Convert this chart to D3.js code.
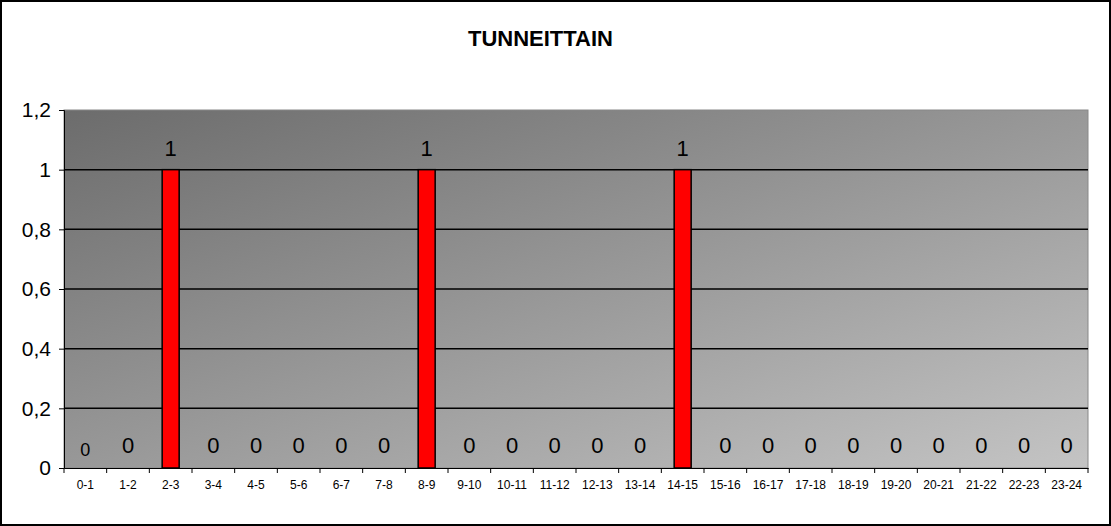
<!DOCTYPE html>
<html>
<head>
<meta charset="utf-8">
<script src="https://cdn.jsdelivr.net/npm/d3@7"></script>
<style>
  body { margin: 0; background: #fff; }
  text { font-family: Arial, "Liberation Sans", sans-serif; }
</style>
</head>
<body>
<div id="chart"></div>
<script>
const hours = ['0-1','1-2','2-3','3-4','4-5','5-6','6-7','7-8','8-9','9-10','10-11','11-12',
  '12-13','13-14','14-15','15-16','16-17','17-18','18-19','19-20','20-21','21-22','22-23','23-24']
const counts = [0,0,1,0,0,0,0,0,1,0,0,0,0,0,1,0,0,0,0,0,0,0,0,0]
const yTicks = [0, 0.2, 0.4, 0.6, 0.8, 1, 1.2]

const width = 1111
const height = 526
const m = { top: 110, right: 23, bottom: 58, left: 64 }

const rows = hours.map((h, i) => ({ hour: h, value: counts[i], i }))

const svg = d3.select('#chart').append('svg').attr('width', width).attr('height', height)

svg.append('rect')
  .attr('x', 1).attr('y', 1).attr('width', width - 2).attr('height', height - 2)
  .attr('fill', '#fff').attr('stroke', '#000').attr('stroke-width', 2)

const grad = svg.append('defs').append('linearGradient')
  .attr('id', 'bg').attr('x1', '0%').attr('y1', '0%').attr('x2', '100%').attr('y2', '100%')
grad.append('stop').attr('offset', '0%').attr('stop-color', '#6c6c6c')
grad.append('stop').attr('offset', '100%').attr('stop-color', '#c4c4c4')

const x = d3.scaleBand().domain(hours).range([m.left, width - m.right])
const y = d3.scaleLinear().domain([0, 1.2]).range([height - m.bottom, m.top])

svg.append('rect')
  .attr('x', m.left).attr('y', m.top)
  .attr('width', width - m.left - m.right).attr('height', height - m.top - m.bottom)
  .attr('fill', 'url(#bg)').attr('stroke', '#888').attr('stroke-width', 1)

svg.append('text')
  .attr('x', width / 2 - 15).attr('y', 46)
  .attr('text-anchor', 'middle').attr('font-size', 22).attr('font-weight', 'bold')
  .text('TUNNEITTAIN')

// gridlines
svg.append('g')
  .selectAll('line')
  .data(yTicks.filter(d => d > 0 && d < 1.2))
  .enter()
  .append('line')
  .attr('x1', m.left).attr('x2', width - m.right)
  .attr('y1', d => y(d)).attr('y2', d => y(d))
  .attr('stroke', '#000').attr('stroke-width', 1.5)

// y axis
const yAxis = svg.append('g')
  .attr('transform', `translate(${m.left},0)`)
  .call(d3.axisLeft(y).tickValues(yTicks).tickSize(5).tickPadding(8)
    .tickFormat(d => String(+d.toFixed(1)).replace('.', ',')))
yAxis.select('.domain').attr('stroke', '#000')
yAxis.selectAll('text').attr('font-size', 21).attr('fill', '#000')

// x axis
const xAxis = svg.append('g')
  .attr('transform', `translate(0,${height - m.bottom})`)
  .call(d3.axisBottom(x).tickSize(0).tickPadding(12))
xAxis.select('.domain').attr('stroke', '#000')
xAxis.selectAll('text').attr('font-size', 12).attr('fill', '#000')
xAxis.selectAll('.tk')
  .data(d3.range(hours.length + 1))
  .enter()
  .append('line')
  .attr('x1', i => m.left + i * x.step()).attr('x2', i => m.left + i * x.step())
  .attr('y1', 0).attr('y2', 5)
  .attr('stroke', '#000')

// bars
const bw = 17
svg.append('g')
  .selectAll('rect')
  .data(rows.filter(d => d.value > 0))
  .enter()
  .append('rect')
  .attr('x', d => x(d.hour) + x.bandwidth() / 2 - bw / 2)
  .attr('y', d => y(d.value))
  .attr('width', bw)
  .attr('height', d => y(0) - y(d.value))
  .attr('fill', '#ff0000').attr('stroke', '#000').attr('stroke-width', 1.5)

// value labels
svg.append('g')
  .selectAll('text')
  .data(rows)
  .enter()
  .append('text')
  .attr('x', d => x(d.hour) + x.bandwidth() / 2)
  .attr('y', d => d.value > 0 ? y(d.value) - 14 : (d.i === 0 ? y(0) - 12 : y(0) - 15))
  .attr('text-anchor', 'middle')
  .attr('font-size', d => d.i === 0 ? 18 : 22)
  .attr('fill', '#000')
  .text(d => d.value)
</script>
</body>
</html>
